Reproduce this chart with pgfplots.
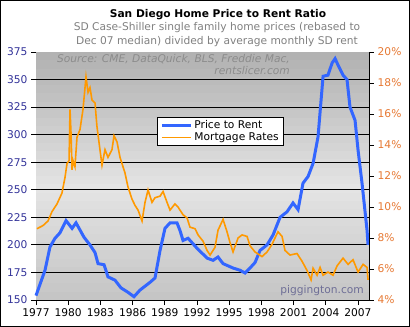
\documentclass[border=0pt]{standalone}
\usepackage{pgfplots}
\usepackage{pgfplotstable}
\pgfplotsset{compat=1.18}
\usepackage{fontspec}
\setmainfont{DejaVu Sans}
\definecolor{ptr}{RGB}{51,102,255}
\definecolor{mort}{RGB}{255,153,0}
\definecolor{lefttick}{RGB}{51,51,153}
\definecolor{righttick}{RGB}{230,120,50}
\definecolor{subgray}{RGB}{128,128,128}
\definecolor{srcgray}{RGB}{140,140,140}
\definecolor{piggray}{RGB}{110,110,150}
\definecolor{bgtop}{RGB}{176,176,176}
\definecolor{bgmid}{RGB}{228,228,228}
\definecolor{bgbot}{RGB}{196,196,196}
\pgfplotstableread{
year rate
1977.09 8.6
1977.65 8.8
1978.12 9.1
1978.49 9.7
1978.96 10.2
1979.42 10.9
1979.7 11.9
1979.89 12.8
1980.08 13.0
1980.17 16.3
1980.26 14.8
1980.36 12.4
1980.45 13.0
1980.63 12.6
1980.82 14.5
1981.1 15.0
1981.38 16.3
1981.66 18.4
1981.85 17.4
1982.03 17.7
1982.22 16.9
1982.5 16.7
1982.68 15.2
1982.96 13.7
1983.15 12.7
1983.43 13.7
1983.71 13.2
1984.08 13.7
1984.27 14.6
1984.55 14.2
1984.83 13.2
1985.29 12.2
1985.57 11.3
1985.95 10.5
1986.23 10.1
1986.51 9.8
1986.88 9.1
1987.16 10.3
1987.44 11.1
1987.81 10.3
1988.09 10.6
1988.56 10.7
1988.84 11.0
1989.21 10.3
1989.49 9.8
1989.95 10.2
1990.23 10.0
1990.7 9.5
1991.07 9.3
1991.35 8.7
1991.82 8.6
1992.1 8.2
1992.56 7.8
1992.94 7.2
1993.22 6.9
1993.68 7.4
1993.96 8.5
1994.43 9.2
1994.8 8.4
1995.08 7.7
1995.36 7.1
1995.83 8.0
1996.2 8.2
1996.67 8.1
1996.94 7.5
1997.41 7.1
1998.06 6.8
1998.53 7.1
1999.0 7.6
1999.27 8.0
1999.55 8.4
1999.93 8.1
2000.2 7.2
2000.67 6.9
2001.32 7.0
2001.79 6.5
2002.26 5.9
2002.63 5.3
2002.82 6.05
2003.19 5.6
2003.47 6.1
2003.75 5.6
2004.21 5.8
2004.68 5.6
2005.05 6.2
2005.61 6.7
2006.08 6.3
2006.54 6.6
2007.01 5.8
2007.48 6.3
2007.85 6.1
2007.94 5.3
}\mortdata
\pgfplotsset{bgstrip/.style={draw=none, fill=#1, forget plot}}
\begin{document}
\begin{tikzpicture}[font=\fontsize{10.7}{12.8}\selectfont]
\begin{axis}[
  at={(0,0)}, anchor=south west,
  scale only axis, width=333bp, height=248bp,
  clip=false,
  xmin=1977, xmax=2008.03, ymin=150, ymax=375,
  axis x line*=bottom, axis y line*=left,
  axis line style={black, line width=0.8bp, -},
  xtick={1977,1980,...,2007}, minor x tick num=2,
  ytick={150,175,...,375},
  tick align=outside, major tick length=5bp, minor tick length=3bp,
  tick style={black, line width=0.8bp},
  x tick label style={/pgf/number format/1000 sep={}},
  yticklabel style={lefttick},
  /pgf/number format/assume math mode=true,
  legend style={at={(0.3634,0.738)}, anchor=north west, draw=black, fill=white,
    line width=0.8bp, inner xsep=3bp, inner ysep=1bp, row sep=-1bp},
  legend cell align=left,
  legend image code/.code={\draw[#1] (0bp,0bp) -- (29bp,0bp);},
]
% plot-area background: light in the middle, darker at top and bottom
\addplot[bgstrip=bgbot!96!bgmid] coordinates {(1977,150) (2008.03,150) (2008.03,157.6) (1977,157.6)};
\addplot[bgstrip=bgbot!89!bgmid] coordinates {(1977,157.5) (2008.03,157.5) (2008.03,165.1) (1977,165.1)};
\addplot[bgstrip=bgbot!81!bgmid] coordinates {(1977,165) (2008.03,165) (2008.03,172.6) (1977,172.6)};
\addplot[bgstrip=bgbot!74!bgmid] coordinates {(1977,172.5) (2008.03,172.5) (2008.03,180.1) (1977,180.1)};
\addplot[bgstrip=bgbot!67!bgmid] coordinates {(1977,180) (2008.03,180) (2008.03,187.6) (1977,187.6)};
\addplot[bgstrip=bgbot!59!bgmid] coordinates {(1977,187.5) (2008.03,187.5) (2008.03,195.1) (1977,195.1)};
\addplot[bgstrip=bgbot!52!bgmid] coordinates {(1977,195) (2008.03,195) (2008.03,202.6) (1977,202.6)};
\addplot[bgstrip=bgbot!44!bgmid] coordinates {(1977,202.5) (2008.03,202.5) (2008.03,210.1) (1977,210.1)};
\addplot[bgstrip=bgbot!37!bgmid] coordinates {(1977,210) (2008.03,210) (2008.03,217.6) (1977,217.6)};
\addplot[bgstrip=bgbot!30!bgmid] coordinates {(1977,217.5) (2008.03,217.5) (2008.03,225.1) (1977,225.1)};
\addplot[bgstrip=bgbot!22!bgmid] coordinates {(1977,225) (2008.03,225) (2008.03,232.6) (1977,232.6)};
\addplot[bgstrip=bgbot!15!bgmid] coordinates {(1977,232.5) (2008.03,232.5) (2008.03,240.1) (1977,240.1)};
\addplot[bgstrip=bgbot!7!bgmid] coordinates {(1977,240) (2008.03,240) (2008.03,247.6) (1977,247.6)};
\addplot[bgstrip=bgmid] coordinates {(1977,247.5) (2008.03,247.5) (2008.03,255.1) (1977,255.1)};
\addplot[bgstrip=bgtop!6!bgmid] coordinates {(1977,255) (2008.03,255) (2008.03,262.6) (1977,262.6)};
\addplot[bgstrip=bgtop!12!bgmid] coordinates {(1977,262.5) (2008.03,262.5) (2008.03,270.1) (1977,270.1)};
\addplot[bgstrip=bgtop!18!bgmid] coordinates {(1977,270) (2008.03,270) (2008.03,277.6) (1977,277.6)};
\addplot[bgstrip=bgtop!24!bgmid] coordinates {(1977,277.5) (2008.03,277.5) (2008.03,285.1) (1977,285.1)};
\addplot[bgstrip=bgtop!30!bgmid] coordinates {(1977,285) (2008.03,285) (2008.03,292.6) (1977,292.6)};
\addplot[bgstrip=bgtop!36!bgmid] coordinates {(1977,292.5) (2008.03,292.5) (2008.03,300.1) (1977,300.1)};
\addplot[bgstrip=bgtop!42!bgmid] coordinates {(1977,300) (2008.03,300) (2008.03,307.6) (1977,307.6)};
\addplot[bgstrip=bgtop!48!bgmid] coordinates {(1977,307.5) (2008.03,307.5) (2008.03,315.1) (1977,315.1)};
\addplot[bgstrip=bgtop!55!bgmid] coordinates {(1977,315) (2008.03,315) (2008.03,322.6) (1977,322.6)};
\addplot[bgstrip=bgtop!61!bgmid] coordinates {(1977,322.5) (2008.03,322.5) (2008.03,330.1) (1977,330.1)};
\addplot[bgstrip=bgtop!67!bgmid] coordinates {(1977,330) (2008.03,330) (2008.03,337.6) (1977,337.6)};
\addplot[bgstrip=bgtop!73!bgmid] coordinates {(1977,337.5) (2008.03,337.5) (2008.03,345.1) (1977,345.1)};
\addplot[bgstrip=bgtop!79!bgmid] coordinates {(1977,345) (2008.03,345) (2008.03,352.6) (1977,352.6)};
\addplot[bgstrip=bgtop!85!bgmid] coordinates {(1977,352.5) (2008.03,352.5) (2008.03,360.1) (1977,360.1)};
\addplot[bgstrip=bgtop!91!bgmid] coordinates {(1977,360) (2008.03,360) (2008.03,367.6) (1977,367.6)};
\addplot[bgstrip=bgtop!97!bgmid] coordinates {(1977,367.5) (2008.03,367.5) (2008.03,375) (1977,375)};
% horizontal grid lines
\addplot[black, line width=0.8bp, forget plot] coordinates {(1977,175) (2008.03,175)};
\addplot[black, line width=0.8bp, forget plot] coordinates {(1977,200) (2008.03,200)};
\addplot[black, line width=0.8bp, forget plot] coordinates {(1977,225) (2008.03,225)};
\addplot[black, line width=0.8bp, forget plot] coordinates {(1977,250) (2008.03,250)};
\addplot[black, line width=0.8bp, forget plot] coordinates {(1977,275) (2008.03,275)};
\addplot[black, line width=0.8bp, forget plot] coordinates {(1977,300) (2008.03,300)};
\addplot[black, line width=0.8bp, forget plot] coordinates {(1977,325) (2008.03,325)};
\addplot[black, line width=0.8bp, forget plot] coordinates {(1977,350) (2008.03,350)};
% price to rent
\addplot[ptr, line width=3bp] coordinates {
(1977.0,154) (1977.84,177) (1978.3,198) (1978.77,206) (1979.24,211) (1979.8,222)
(1980.36,215) (1980.73,220) (1981.47,207) (1982.03,200) (1982.5,193) (1982.78,183)
(1983.34,182) (1983.71,171) (1984.36,168) (1984.92,161) (1985.57,157) (1986.13,153)
(1986.69,159) (1987.62,166) (1988.09,170) (1988.56,195) (1989.02,215) (1989.49,220)
(1990.14,220) (1990.42,213) (1990.7,204) (1991.17,206) (1992.0,197) (1992.94,188)
(1993.5,186) (1993.96,189) (1994.43,183) (1995.36,179) (1996.01,177) (1996.48,174.5)
(1996.94,179) (1997.41,184) (1997.88,195) (1998.53,200) (1999.09,209) (1999.74,225)
(2000.39,230) (2000.95,238) (2001.42,232) (2001.88,256) (2002.35,262) (2002.82,274)
(2003.28,298) (2003.75,353) (2004.21,354) (2004.59,365) (2004.87,369) (2005.15,363)
(2005.61,354) (2005.98,350) (2006.26,325) (2006.73,313) (2007.01,286) (2007.38,256)
(2007.85,213) (2007.94,200)
};
\addlegendentry{Price to Rent}
% mortgage rate (right scale 4%..20% mapped onto 150..375)
\addplot[mort, line width=1.6bp] table[x=year, y expr={150+(\thisrow{rate}-4)*14.0625}] {\mortdata};
\addlegendentry{Mortgage Rates}
\end{axis}
% right-hand axis for the mortgage rate
\draw[black, line width=0.8bp] (333bp,0bp) -- (333bp,248bp);
\foreach \r in {4,6,...,20}{
  \draw[black, line width=0.8bp] (333bp,{(\r-4)*15.5bp}) -- ++(5bp,0bp);
  \node[righttick, anchor=west, inner sep=0pt] at (341.5bp,{(\r-4)*15.5bp}) {\r\%};
}
\node[font=\fontsize{10.7}{12.8}\selectfont\bfseries] at (182bp,285bp) {San Diego Home Price to Rent Ratio};
\node[subgray] at (181bp,272bp) {SD Case-Shiller single family home prices (rebased to};
\node[subgray] at (181bp,258bp) {Dec 07 median) divided by average monthly SD rent};
\node[srcgray, font=\fontsize{10.7}{12}\selectfont\itshape, align=right, anchor=north east, inner sep=0pt] at (254bp,246bp) {Source: CME, DataQuick, BLS, Freddie Mac,\\rentslicer.com};
\node[piggray, anchor=east, inner sep=0pt] at (328bp,9bp) {piggington.com};
\draw[black, line width=1bp] (-35.5bp,-26.5bp) rectangle (373.5bp,299.5bp);
\end{tikzpicture}
\end{document}
